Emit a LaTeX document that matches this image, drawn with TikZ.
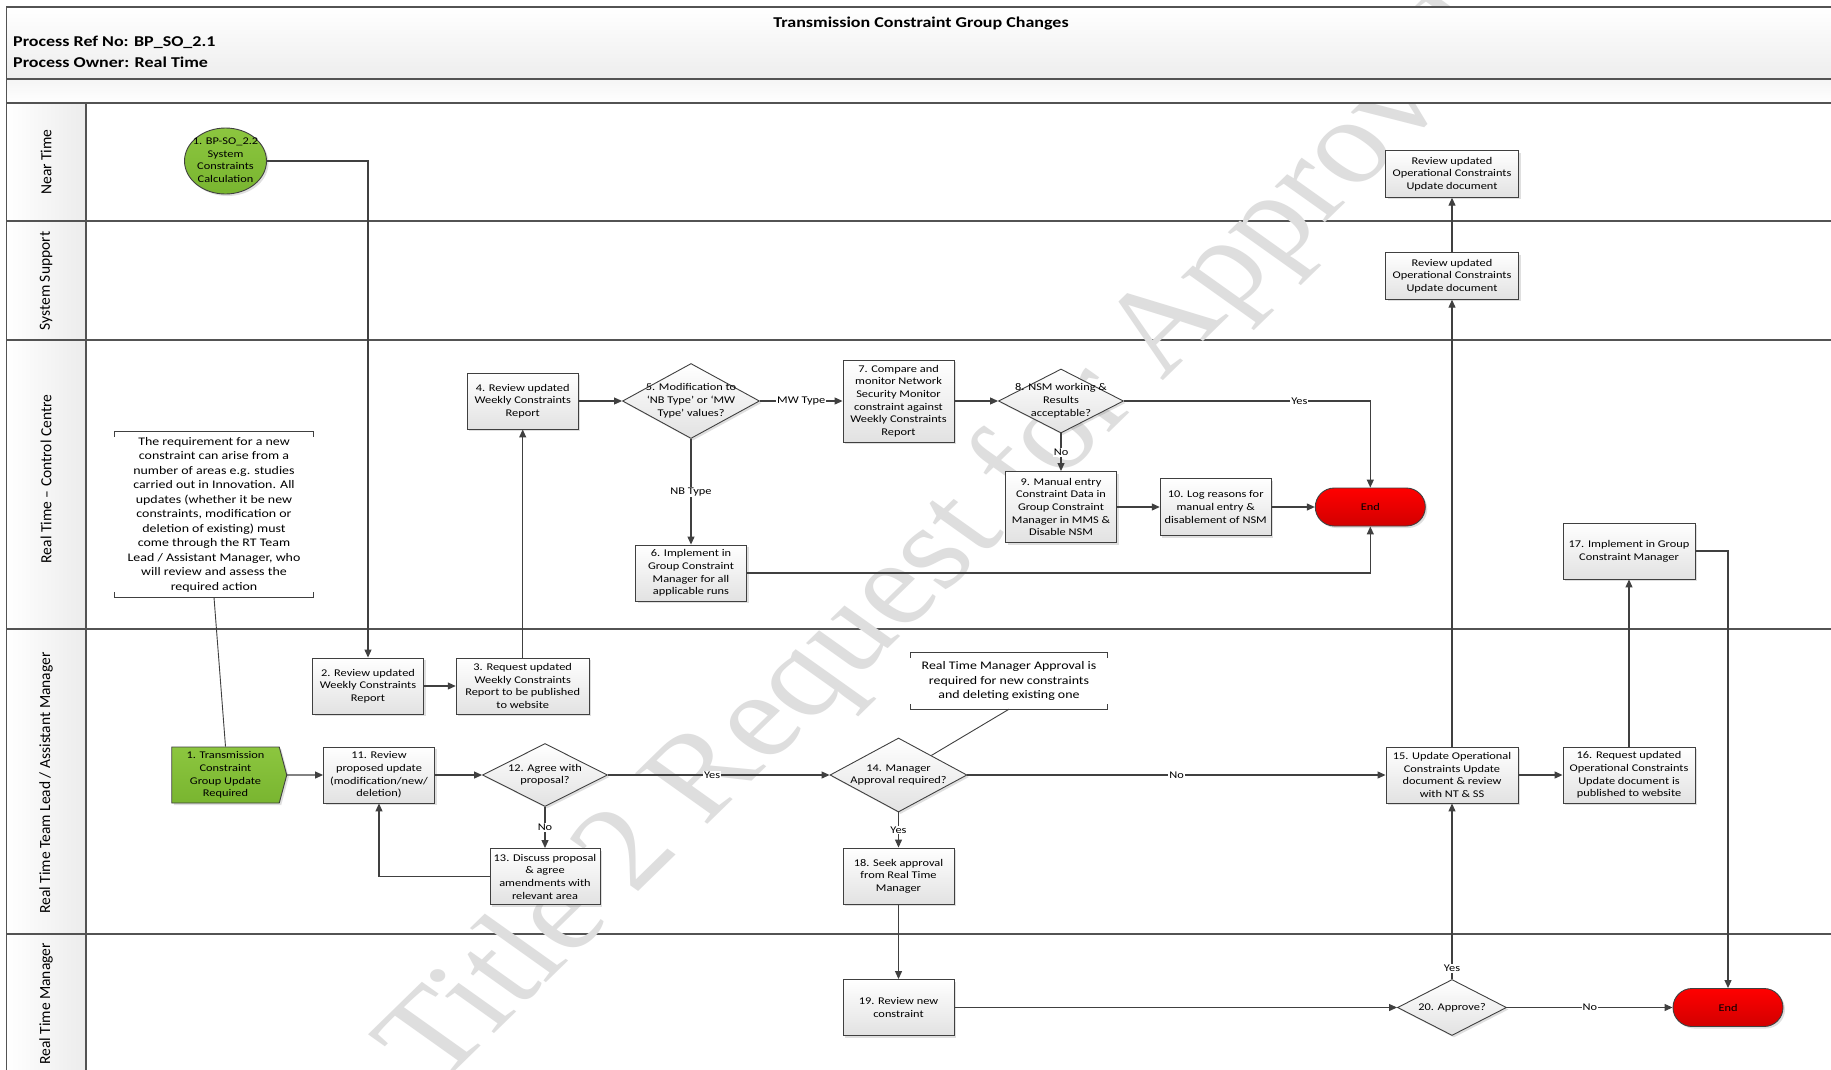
\documentclass[tikz,border=0pt]{standalone}
\usepackage{fontspec}
\setmainfont{Carlito}[FakeStretch=1.2]
\newfontfamily\lanefont{Carlito}[Ligatures=TeX]
\newfontfamily\wmfont{Liberation Serif}
\usetikzlibrary{arrows.meta,shapes.geometric,shapes.symbols,shadows}
\definecolor{linegray}{HTML}{404040}
\definecolor{boxgray}{HTML}{E2E2E2}
\definecolor{evgreen}{HTML}{8CC63F}
\definecolor{evgreenB}{HTML}{79B530}
\definecolor{endred}{HTML}{FF0000}
\definecolor{endredB}{HTML}{D20000}
\newcommand{\ctrtext}[1]{\makebox[0pt]{\smash{\raisebox{-.25em}{\begin{tabular}{@{}c@{}}#1\end{tabular}}}}}

\begin{document}
\begin{tikzpicture}[x=1pt,y=-1pt,
	box/.style={rectangle,draw=linegray,line width=0.9pt,top color=white,bottom color=boxgray,
		drop shadow={opacity=0.25,shadow xshift=2pt,shadow yshift=-2pt},align=center,
		font=\fontsize{10.3}{12.7}\selectfont,inner sep=1pt,minimum width=111,minimum height=56},
	dec/.style={diamond,draw=linegray,line width=0.9pt,top color=white,bottom color=boxgray,
		drop shadow={opacity=0.25,shadow xshift=2pt,shadow yshift=-2pt},inner sep=0pt,
		font=\fontsize{10.3}{12.7}\selectfont,minimum width=125,minimum height=63},
	endnode/.style={rectangle,rounded corners=19,draw=linegray,line width=0.9pt,top color=endred,bottom color=endredB,
		drop shadow={opacity=0.25,shadow xshift=2pt,shadow yshift=-2pt},
		font=\fontsize{10.3}{12.7}\selectfont,minimum width=110,minimum height=38},
	event/.style={draw=linegray,line width=0.9pt,top color=evgreen,bottom color=evgreenB,
		drop shadow={opacity=0.25,shadow xshift=2pt,shadow yshift=-2pt},
		font=\fontsize{10.3}{12.7}\selectfont,inner sep=0pt},
	flow/.style={draw=linegray,line width=1.1pt,-{Triangle[length=8pt,width=7pt]}},
	lbl/.style={fill=white,inner sep=1pt,font=\fontsize{10.3}{12}\selectfont},
	note/.style={align=center,font=\fontsize{11.6}{14.5}\selectfont,inner sep=0pt},
	bracket/.style={draw=linegray,line width=0.8pt},
	lane/.style={draw=linegray!90,line width=1.3pt},
	lanetxt/.style={rotate=90,font=\lanefont\fontsize{15.5}{18}\selectfont},
	]

	\useasboundingbox (0,0) rectangle (1831,1069);
	\fill[white] (0,0) rectangle (1831,1069);

	% lanes
	\shade[left color=white,right color=gray!15] (6.7,103) rectangle (86,1075);
	\foreach \y in {221,340,629,934} \draw[lane] (6.7,\y) -- (1840,\y);
	\draw[lane] (86,103) -- (86,1075);
	\draw[lane] (6.7,7) -- (6.7,1075);

	\node[lanetxt] (lnt) at (46,162) {Near Time};
	\node[lanetxt] (lss) at (46,281) {System Support};
	\node[lanetxt] (lcc) at (46,479) {Real Time – Control Centre};
	\node[lanetxt] (ltl) at (46,783) {Real Time Team Lead / Assistant Manager};
	\node[lanetxt] (lrm) at (46,1004) {Real Time Manager};

	% watermark
	\begin{scope}[shift={(438,1088)}]
		\node[anchor=base west,xscale=1.2,rotate=49.5,inner sep=0pt,text=black!13,
			font=\wmfont\fontsize{120}{122}\selectfont] (wm) at (0,0) {Title 2 Request for Approval};
	\end{scope}

	% header
	\draw[lane,top color=white,bottom color=gray!14] (6.7,7) rectangle (1840,79);
	\draw[lane,top color=gray!8,bottom color=white] (6.7,79) rectangle (1840,103);
	\node[font=\bfseries\fontsize{15}{18}\selectfont] (title) at (921,24) {Transmission Constraint Group Changes};
	\node[anchor=west,inner sep=0pt,font=\bfseries\fontsize{15}{18}\selectfont] (pref) at (13,42) {Process Ref No: BP\_SO\_2.1};
	\node[anchor=west,inner sep=0pt,font=\bfseries\fontsize{15}{18}\selectfont] (pown) at (13,62) {Process Owner: Real Time};

	% near time / system support
	\node[event,ellipse,minimum width=82,minimum height=66] (nt) at (225.5,161) {\ctrtext{1. BP-SO\_2.2\\System\\Constraints\\Calculation}};
	\node[box,minimum width=133,minimum height=46.5] (nnt) at (1452,174) {Review updated\\Operational Constraints\\Update document};
	\node[box,minimum width=133,minimum height=46.5] (nss) at (1452,276) {Review updated\\Operational Constraints\\Update document};

	% control centre
	\node[note,minimum width=198,minimum height=165] (note1) at (214,514.5) {The requirement for a new\\constraint can arise from a\\number of areas e.g. studies\\carried out in Innovation. All\\updates (whether it be new\\constraints, modification or\\deletion of existing) must\\come through the RT Team\\Lead / Assistant Manager, who\\will review and assess the\\required action};
	\draw[bracket] ([yshift=-5pt]note1.north west) -- (note1.north west) -- (note1.north east) -- ([yshift=-5pt]note1.north east);
	\draw[bracket] ([yshift=5pt]note1.south west) -- (note1.south west) -- (note1.south east) -- ([yshift=5pt]note1.south east);

	\node[box] (n4) at (522.7,401) {4. Review updated\\Weekly Constraints\\Report};
	\node[dec,minimum width=137,minimum height=75] (d5) at (691,401) {\ctrtext{5. Modification to\\`NB Type' or `MW\\Type' values?}};
	\node[box] (n6) at (691,573) {6. Implement in\\Group Constraint\\Manager for all\\applicable runs};
	\node[box,minimum height=82] (n7) at (898.5,401) {7. Compare and\\monitor Network\\Security Monitor\\constraint against\\Weekly Constraints\\Report};
	\node[dec,minimum height=64] (d8) at (1061,401) {\ctrtext{8. NSM working \&\\Results\\acceptable?}};
	\node[box,minimum height=71] (n9) at (1061,507) {9. Manual entry\\Constraint Data in\\Group Constraint\\Manager in MMS \&\\Disable NSM};
	\node[box,minimum height=57] (n10) at (1215.7,507) {10. Log reasons for\\manual entry \&\\disablement of NSM};
	\node[endnode] (end1) at (1370.3,507) {End};
	\node[box,minimum width=132] (n17) at (1629,551) {17. Implement in Group\\Constraint Manager};

	% team lead
	\node[box] (n2) at (368,686) {2. Review updated\\Weekly Constraints\\Report};
	\node[box,minimum width=133] (n3) at (522.7,686) {3. Request updated\\Weekly Constraints\\Report to be published\\to website};
	\node[event,signal,signal to=east,signal from=nowhere,signal pointer angle=150,minimum width=115,minimum height=56,align=center] (n1) at (225.5,775) {1. Transmission\\Constraint\\Group Update\\Required};
	\node[box] (n11) at (379,775) {11. Review\\proposed update\\(modification/new/\\deletion)};
	\node[dec] (d12) at (545,775) {\ctrtext{12. Agree with\\proposal?}};
	\node[box,minimum width=110] (n13) at (545,876.5) {13. Discuss proposal\\\& agree\\amendments with\\relevant area};
	\node[dec,minimum width=137,minimum height=74] (d14) at (898.5,775) {\ctrtext{14. Manager\\Approval required?}};
	\node[note,minimum width=196,minimum height=56] (note14) at (1009,681) {Real Time Manager Approval is\\required for new constraints\\and deleting existing one};
	\draw[bracket] ([yshift=-5pt]note14.north west) -- (note14.north west) -- (note14.north east) -- ([yshift=-5pt]note14.north east);
	\draw[bracket] ([yshift=5pt]note14.south west) -- (note14.south west) -- (note14.south east) -- ([yshift=5pt]note14.south east);
	\node[box] (n18) at (898.5,876) {18. Seek approval\\from Real Time\\Manager};
	\node[box,minimum width=132] (n15) at (1452,775) {15. Update Operational\\Constraints Update\\document \& review\\with NT \& SS};
	\node[box,minimum width=132] (n16) at (1629,775) {16. Request updated\\Operational Constraints\\Update document is\\published to website};

	% manager
	\node[box] (n19) at (898.5,1007.5) {19. Review new\\constraint};
	\node[dec,minimum width=109,minimum height=56] (d20) at (1452,1007.5) {\ctrtext{20. Approve?}};
	\node[endnode] (end2) at (1728,1007.5) {End};

	% connectors
	\draw[flow] (nt) -| (n2);
	\draw[flow] (n2) -- (n3);
	\draw[flow] (n3) -- (n4);
	\draw[flow] (n4) -- (d5);
	\draw[flow] (d5) -- node[lbl] (mwt) {MW Type} (n7);
	\draw[flow] (d5) -- node[lbl] (nbt) {NB Type} (n6);
	\draw[flow] (n7) -- (d8);
	\draw[flow] (d8) -| node[lbl,pos=0.356] (yes8) {Yes} (end1);
	\draw[flow] (d8) -- node[lbl] (no8) {No} (n9);
	\draw[flow] (n9) -- (n10);
	\draw[flow] (n10) -- (end1);
	\draw[flow] (n6) -| (end1);

	\draw[bracket,line width=0.9pt] (note1.south) -- (n1.north);
	\draw[flow] (n1) -- (n11);
	\draw[flow] (n11) -- (d12);
	\draw[flow] (d12) -- node[lbl,pos=0.47] (yes12) {Yes} (d14);
	\draw[flow] (d12) -- node[lbl] (no12) {No} (n13);
	\draw[flow] (n13) -| (n11);
	\draw[bracket,line width=0.9pt] (note14.south) -- (d14);
	\draw[flow] (d14) -- node[lbl] (no14) {No} (n15);
	\draw[flow] (d14) -- node[lbl] (yes14) {Yes} (n18);
	\draw[flow] (n15) -- (nss);
	\draw[flow] (nss) -- (nnt);
	\draw[flow] (n15) -- (n16);
	\draw[flow] (n16) -- (n17);
	\draw[flow] (n17) -| (end2);

	\draw[flow] (n18) -- (n19);
	\draw[flow] (n19) -- (d20);
	\draw[flow] (d20) -- node[lbl,pos=0.06] (yes20) {Yes} (n15);
	\draw[flow] (d20) -- node[lbl] (no20) {No} (end2);

\end{tikzpicture}
\end{document}
